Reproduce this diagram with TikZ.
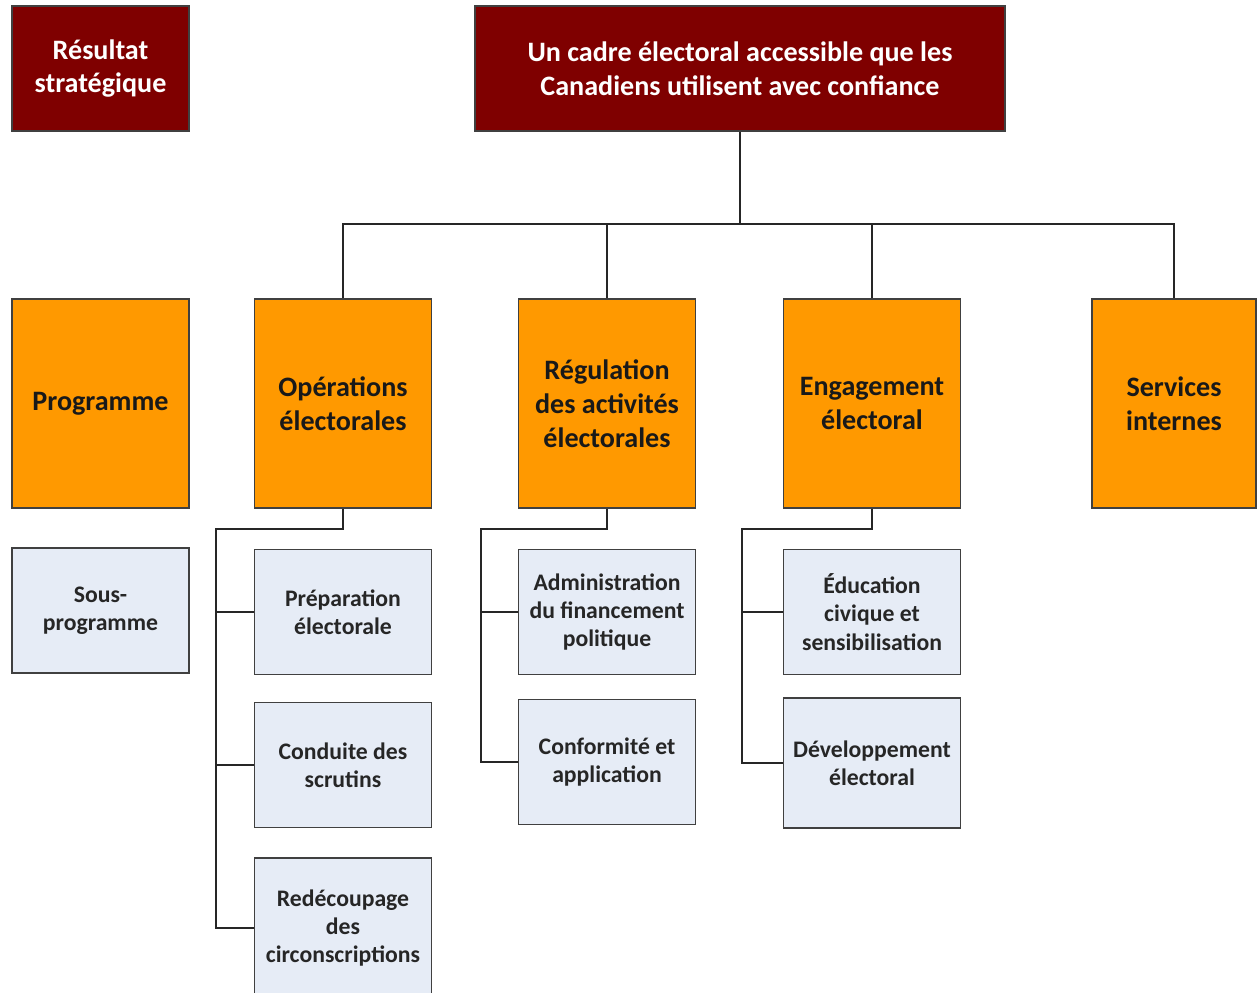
\documentclass[tikz,border=0pt]{standalone}
\usepackage{fontspec}
\setmainfont{Carlito}
\usetikzlibrary{positioning,calc}
\definecolor{stratred}{HTML}{7F0000}
\definecolor{progorange}{HTML}{FF9900}
\definecolor{subblue}{HTML}{E6ECF6}
\definecolor{edgegray}{HTML}{404040}

\begin{document}
\begin{tikzpicture}[x=0.02cm,y=-0.02cm,
    strat/.style={draw=edgegray,line width=0.9pt,fill=stratred,text=white,font=\fontsize{16}{19.3}\selectfont\bfseries,
      align=center,minimum height=2.5cm,inner sep=0pt},
    prog/.style={draw=edgegray,line width=0.9pt,fill=progorange,text=black!90,font=\fontsize{16}{19.3}\selectfont\bfseries,
      align=center,minimum width=3.54cm,minimum height=4.18cm,inner sep=0pt},
    sub/.style={draw=edgegray,line width=0.9pt,fill=subblue,text=black!85,font=\fontsize{13.5}{16}\selectfont\bfseries,
      align=center,minimum width=3.54cm,minimum height=2.5cm,inner sep=0pt},
    link/.style={draw=black!85,line width=1.1pt}]

    \useasboundingbox (0,0) rectangle (1257,992);

    % strategic outcome
    \node[strat,minimum width=3.54cm]  (legend_so) at (100.5,68.5) {Résultat\\stratégique};
    \node[strat,minimum width=10.6cm]  (so)        at (740,68.5)   {Un cadre électoral accessible que les\\Canadiens utilisent avec confiance};

    % programs
    \node[prog]                        (legend_p) at (100.5,403.5) {Programme};
    \node[prog]                        (ops)      at (343,403.5)   {Opérations\\électorales};
    \node[prog]                        (reg)      at (607,403.5)   {Régulation\\des activités\\électorales};
    \node[prog]                        (eng)      at (872,403.5)   {Engagement\\électoral};
    \node[prog,minimum width=3.28cm]   (serv)     at (1174,403.5)  {Services\\internes};

    % sub-programs
    \node[sub]                         (legend_sp) at (100.5,610.5) {Sous-\\programme};
    \node[sub]                         (prep)      at (343,612)     {Préparation\\électorale};
    \node[sub]                         (cond)      at (343,765)     {Conduite des\\scrutins};
    \node[sub,minimum height=2.8cm]    (redec)     at (343,928)     {Redécoupage\\des\\circonscriptions};
    \node[sub]                         (admin)     at (607,612)     {Administration\\du financement\\politique};
    \node[sub]                         (conf)      at (607,762)     {Conformité et\\application};
    \node[sub]                         (educ)      at (872,612)     {Éducation\\civique et\\sensibilisation};
    \node[sub,minimum height=2.6cm]    (dev)       at (872,763)     {Développement\\électoral};

    % links to the programs
    \coordinate (hub) at (740,224);
    \draw[link] (so.south) -- (hub);
    \draw[link] (ops.north) |- (hub) -| (serv.north);
    \draw[link] (reg.north) -- (reg.north |- hub);
    \draw[link] (eng.north) -- (eng.north |- hub);

    % links to the sub-programs
    \coordinate (opsbus) at (216,529);
    \coordinate (regbus) at (481,529);
    \coordinate (engbus) at (742,529);
    \draw[link] (ops.south) |- (opsbus) |- (redec.west);
    \draw[link] (opsbus |- prep.west) -- (prep.west);
    \draw[link] (opsbus |- cond.west) -- (cond.west);
    \draw[link] (reg.south) |- (regbus) |- (conf.west);
    \draw[link] (regbus |- admin.west) -- (admin.west);
    \draw[link] (eng.south) |- (engbus) |- (dev.west);
    \draw[link] (engbus |- educ.west) -- (educ.west);
\end{tikzpicture}
\end{document}
